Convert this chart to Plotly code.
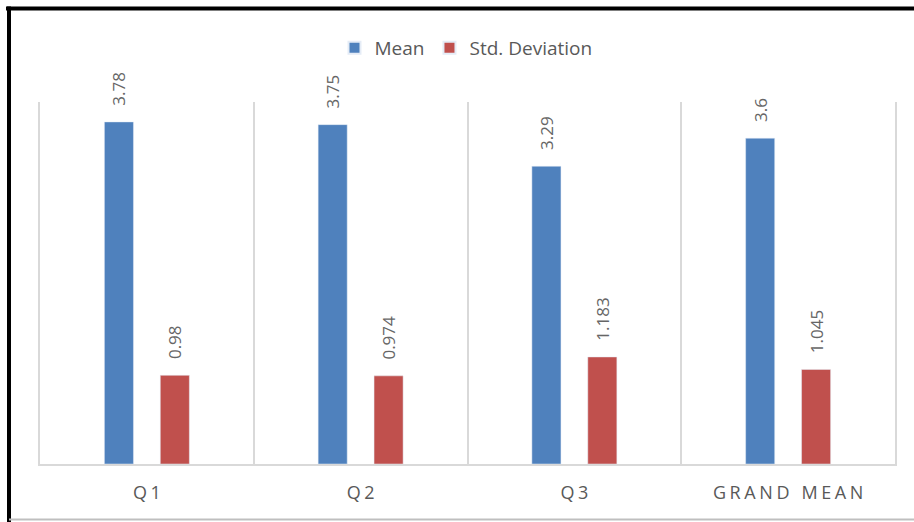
import plotly.graph_objects as go

# Survey summary: mean score and standard deviation per question
categories = ["Q1", "Q2", "Q3", "GRAND MEAN"]
mean_values = [3.78, 3.75, 3.29, 3.6]
std_values = [0.98, 0.974, 1.183, 1.045]

BLUE = "#4F81BD"
RED = "#C0504D"
GREY_TEXT = "#595959"
LABEL_GREY = "#666666"
GRID = "#D9D9D9"
FONT = "Open Sans, Noto Sans, Liberation Sans, sans-serif"

W, H = 914, 522
M_L, M_R, M_T, M_B = 40, 19, 102, 58
PW, PH = W - M_L - M_R, H - M_T - M_B


def px_x(px):
    return (px - M_L) / PW


def px_y(py):
    return (H - M_B - py) / PH


def spaced(label):
    # widen letter spacing of the category captions
    return "\u200a\u200a".join(label)


label_tpl = "\u00a0\u00a0\u00a0%{y}"
label_font = dict(color=LABEL_GREY, size=17, family=FONT)

fig = go.Figure()
fig.add_trace(go.Bar(
    name="Mean", x=categories, y=mean_values, marker_color=BLUE,
    texttemplate=label_tpl, textposition="outside", textangle=-90,
    constraintext="none", textfont=label_font, cliponaxis=False,
))
fig.add_trace(go.Bar(
    name="Std. Deviation", x=categories, y=std_values, marker_color=RED,
    texttemplate=label_tpl, textposition="outside", textangle=-90,
    constraintext="none", textfont=label_font, cliponaxis=False,
))

# outer frame of the chart
frame = [
    dict(x0=px_x(6), x1=px_x(W + 2), y0=px_y(8.5), y1=px_y(8.5),
         line=dict(color="black", width=4)),
    dict(x0=px_x(9), x1=px_x(9), y0=px_y(6.5), y1=px_y(H + 2),
         line=dict(color="black", width=4)),
    dict(x0=px_x(9), x1=px_x(W + 2), y0=px_y(519.5), y1=px_y(519.5),
         line=dict(color="#BFBFBF", width=2)),
]
shapes = [dict(type="line", xref="paper", yref="paper", layer="above", **s) for s in frame]

fig.update_layout(
    width=W, height=H,
    margin=dict(l=M_L, r=M_R, t=M_T, b=M_B),
    paper_bgcolor="white", plot_bgcolor="white",
    barmode="group", bargap=0.477, bargroupgap=0.48,
    font=dict(family=FONT, color=GREY_TEXT),
    uniformtext=dict(mode=False),
    showlegend=True,
    legend=dict(orientation="h", x=px_x(466), xanchor="center", y=px_y(48), yanchor="middle",
                font=dict(size=19, color=GREY_TEXT, family=FONT),
                itemsizing="constant", traceorder="normal", itemwidth=30),
    xaxis=dict(
        type="category", tickson="boundaries", ticks="",
        showgrid=True, gridcolor=GRID, gridwidth=1.5,
        showline=True, linecolor=GRID, linewidth=1.5,
        tickvals=categories, ticktext=[spaced(c) for c in categories],
        tickfont=dict(size=18, color=GREY_TEXT, family=FONT),
        ticklabelstandoff=12,
        range=[-0.5, 3.5],
    ),
    yaxis=dict(
        range=[0, 4], showgrid=False, zeroline=False, showticklabels=False,
        showline=True, mirror=True, linecolor=GRID, linewidth=1.5, ticks="",
    ),
    shapes=shapes,
)

fig.write_html("out.html")
